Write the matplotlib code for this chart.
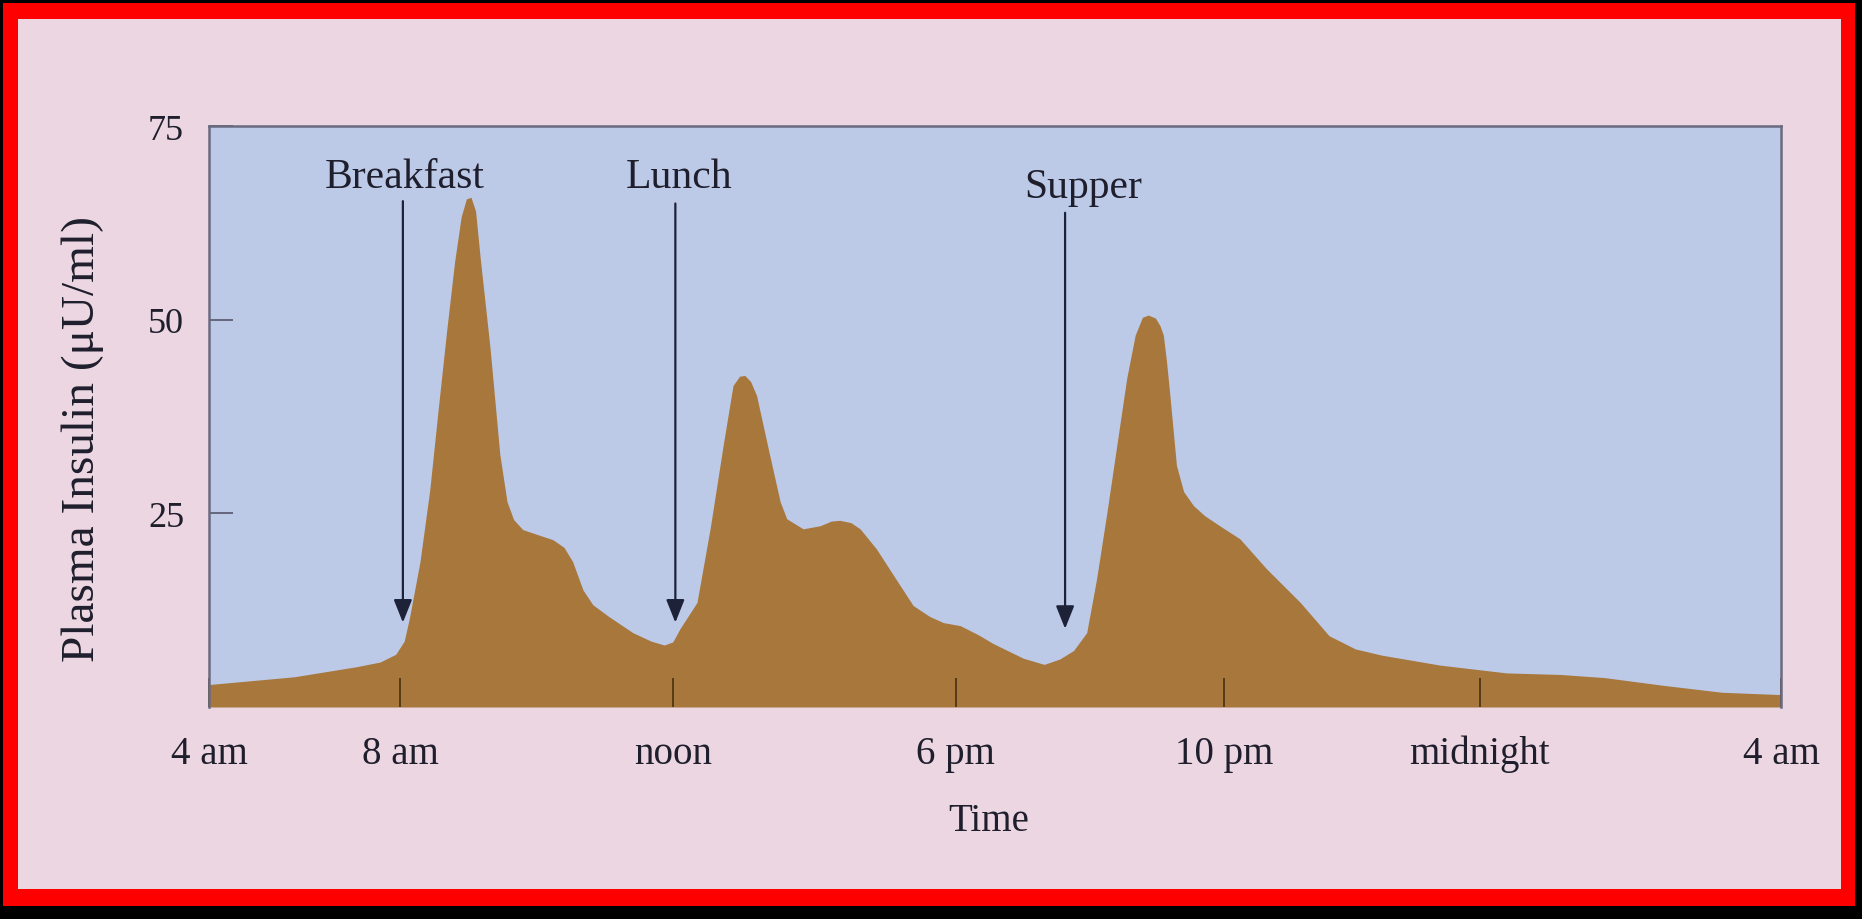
import matplotlib.pyplot as plt
from matplotlib.patches import Rectangle

# hours after 4 am
hours = [0.0, 1.3, 2.25, 2.61, 2.85, 2.98, 3.06, 3.22, 3.37, 3.5, 3.63, 3.75,
         3.85, 3.93, 4.0, 4.07, 4.14, 4.29, 4.44, 4.55, 4.65, 4.79, 5.0, 5.25,
         5.42, 5.55, 5.71, 5.86, 6.1, 6.47, 6.75, 6.95, 7.08, 7.19, 7.45, 7.65,
         7.85, 8.0, 8.1, 8.18, 8.27, 8.36, 8.56, 8.72, 8.82, 9.07, 9.33, 9.5,
         9.63, 9.8, 9.94, 10.19, 10.45, 10.75, 11.0, 11.21, 11.47, 11.75, 11.97,
         12.43, 12.75, 12.99, 13.2, 13.4, 13.55, 13.71, 13.86, 14.01, 14.14,
         14.25, 14.34, 14.45, 14.52, 14.57, 14.62, 14.67, 14.77, 14.88, 15.03,
         15.2, 15.43, 15.74, 16.15, 16.66, 17.1, 17.5, 17.9, 18.8, 19.81, 20.63,
         21.3, 22.2, 23.1, 24.0]
insulin = [2.9, 3.9, 5.2, 5.8, 6.8, 8.5, 11.5, 18.7, 28.0, 38.5, 48.7, 57.5,
           63.3, 65.6, 65.8, 64.0, 58.0, 46.4, 32.6, 26.5, 24.2, 22.9, 22.3, 21.6,
           20.6, 18.8, 15.1, 13.2, 11.7, 9.6, 8.5, 8.0, 8.4, 10.1, 13.5, 23.0,
           33.8, 41.5, 42.7, 42.8, 42.0, 40.2, 32.5, 26.5, 24.3, 23.0, 23.4, 24.0,
           24.1, 23.8, 23.0, 20.4, 17.0, 13.1, 11.7, 10.9, 10.5, 9.3, 8.2,
           6.3, 5.5, 6.2, 7.3, 9.6, 16.5, 25.2, 33.8, 42.4, 48.0,
           50.3, 50.6, 50.2, 49.2, 48.0, 44.5, 40.2, 31.2, 27.8, 26.0,
           24.7, 23.4, 21.7, 17.8, 13.5, 9.2, 7.5, 6.7, 5.4, 4.4, 4.2,
           3.8, 2.8, 1.9, 1.6]

tick_hours = [0, 2.92, 7.09, 11.4, 15.5, 19.4, 24]
tick_labels = ["4 am", "8 am", "noon", "6 pm", "10 pm", "midnight", "4 am"]

meal_names = ["Breakfast", "Lunch", "Supper"]
meal_hours = [2.96, 7.12, 13.07]
label_hours = [2.98, 7.18, 13.35]
label_levels = [68.5, 68.5, 67.1]
arrow_tops = [65.3, 65.0, 63.8]
arrow_tips = [10.9, 10.9, 10.1]

plt.rcParams["font.family"] = ["Liberation Serif", "DejaVu Serif"]
txt = "#1e1e2c"

W, H = 1862, 920
fig = plt.figure(figsize=(W / 100, H / 100), dpi=100, facecolor="black")
fig.patches.append(Rectangle((3 / W, 13 / H), 1852 / W, 903 / H, transform=fig.transFigure,
                             facecolor="#ff0000", edgecolor="none", zorder=-2))
fig.patches.append(Rectangle((18 / W, 30 / H), 1823 / W, 870 / H, transform=fig.transFigure,
                             facecolor="#ecd6e2", edgecolor="none", zorder=-1))

ax = fig.add_axes([209 / W, 1 - 708 / H, 1572 / W, 581 / H])
ax.set_facecolor("#bccae8")
ax.fill_between(hours, insulin, 0, color="#a8773c", lw=0)
ax.set_xlim(0, 24)
ax.set_ylim(0, 75)

ax.set_xticks(tick_hours)
ax.set_xticklabels(tick_labels)
ax.set_yticks([25, 50, 75])
ax.tick_params(axis="x", direction="in", length=21, width=1.2, color="#4a3010",
               pad=20, labelsize=28, labelcolor=txt)
ax.tick_params(axis="y", direction="in", length=17, width=1.2, color="#55556a",
               pad=18, labelsize=26, labelcolor=txt)

for side in ["left", "top", "right"]:
    ax.spines[side].set_color("#6a6a80")
    ax.spines[side].set_linewidth(1.8)
ax.spines["bottom"].set_visible(False)

for name, h, lh, lv, top, tip in zip(meal_names, meal_hours, label_hours,
                                     label_levels, arrow_tops, arrow_tips):
    ax.text(lh, lv, name, ha="center", va="center", fontsize=30, color=txt)
    ax.annotate("", xy=(h, tip), xytext=(h, top),
                arrowprops=dict(arrowstyle="-|>,head_length=0.7,head_width=0.28",
                                mutation_scale=20, color="#1e2238", lw=1.6,
                                shrinkA=0, shrinkB=0))

ax.set_ylabel("Plasma Insulin (μU/ml)", fontsize=34, color=txt, va="center")
ax.yaxis.set_label_coords(-0.080, 0.463)
ax.set_xlabel("Time", fontsize=28, color=txt, va="center")
ax.xaxis.set_label_coords(0.496, -0.196)

fig.savefig("out.png", dpi=100, facecolor=fig.get_facecolor())
